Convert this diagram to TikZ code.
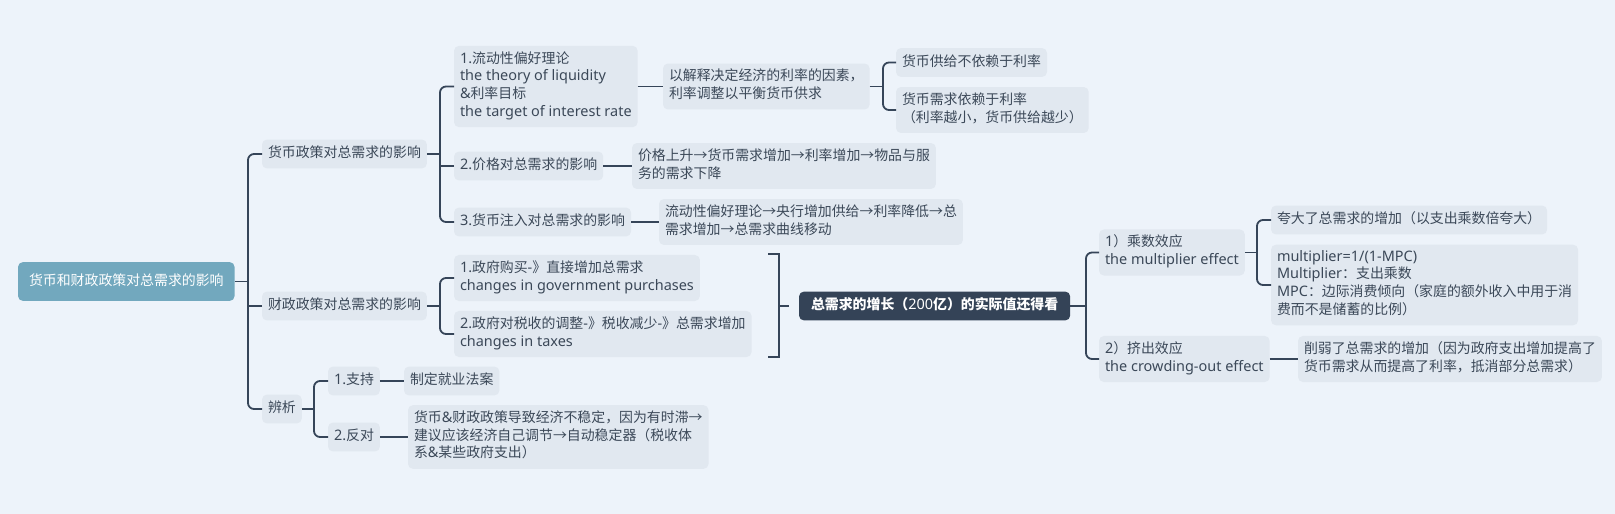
\documentclass[tikz,border=0pt]{standalone}
\usepackage{fontspec}
\setmainfont{Noto Sans}
\newfontfamily\latfont[Scale=1.04]{Noto Sans}
\newfontfamily\cjkfont{Noto Sans CJK SC}
\usepackage{xcolor}
\usepackage{tikz}
% 中文字符用 CJK 字体, 其余用 Noto Sans
\XeTeXinterchartokenstate=1
\newXeTeXintercharclass\cjkcls
\newcount\cc
\cc="2E80
\loop\XeTeXcharclass\cc=\cjkcls \advance\cc by 1 \ifnum\cc<"A000 \repeat
\cc="FF00
\loop\XeTeXcharclass\cc=\cjkcls \advance\cc by 1 \ifnum\cc<"FFF0 \repeat
\XeTeXcharclass"2192=\cjkcls
\XeTeXinterchartoks 0 \cjkcls = {\cjkfont}
\XeTeXinterchartoks 4095 \cjkcls = {\cjkfont}
\XeTeXinterchartoks \cjkcls 0 = {\latfont}
\XeTeXinterchartoks 4095 0 = {\latfont}
\definecolor{bgc}{HTML}{EDF3FA}
\definecolor{boxc}{HTML}{E1E8F0}
\definecolor{rootc}{HTML}{72A8BE}
\definecolor{darkc}{HTML}{344357}
\definecolor{linec}{HTML}{364559}
\definecolor{txtc}{HTML}{3B4858}

\begin{document}
\begin{tikzpicture}[x=1pt, y=-1pt,
		topic/.style={rectangle, fill=boxc, text=txtc, rounded corners=5pt, align=left, anchor=west,
			inner xsep=6pt, inner ysep=5.6pt, outer sep=0pt,
			font=\fontsize{13.9pt}{17.7pt}\selectfont,
			execute at begin node=\strut, execute at end node=\strut},
		root/.style={topic, fill=rootc, text=white, inner xsep=11pt, inner ysep=10.6pt},
		hub/.style={topic, fill=darkc, text=white, inner xsep=12pt, font=\fontsize{13.9pt}{17.7pt}\selectfont\bfseries},
		link/.style={draw=linec, line width=1.8pt},
		elbow/.style={link, rounded corners=6pt}
		]
		\fill[bgc] (0,0) rectangle (1615,514);
		\useasboundingbox (0,0) rectangle (1615,514);
		
		\node[root] (root) at (18, 281.5) {货币和财政政策对总需求的影响};
		\node[topic] (mon) at (262, 154) {货币政策对总需求的影响};
		\node[topic] (fis) at (262, 306) {财政政策对总需求的影响};
		\node[topic] (ana) at (262, 409) {辨析};
		
		% 货币政策
		\node[topic] (liq) at (454, 86.5) {1.流动性偏好理论\\the theory of liquidity\\\&利率目标\\the target of interest rate};
		\node[topic] (price) at (454, 166) {2.价格对总需求的影响};
		\node[topic] (inj) at (454, 222) {3.货币注入对总需求的影响};
		\node[topic] (expl) at (663, 86.5) {以解释决定经济的利率的因素，\\利率调整以平衡货币供求};
		\node[topic] (sup) at (896, 62.5) {货币供给不依赖于利率};
		\node[topic] (dem) at (896, 110) {货币需求依赖于利率\\（利率越小，货币供给越少）};
		\node[topic] (pchain) at (632, 166) {价格上升→货币需求增加→利率增加→物品与服\\务的需求下降};
		\node[topic] (ichain) at (659, 222) {流动性偏好理论→央行增加供给→利率降低→总\\需求增加→总需求曲线移动};
		
		% 财政政策
		\node[topic] (gov) at (454, 278) {1.政府购买-》直接增加总需求\\changes in government purchases};
		\node[topic] (tax) at (454, 334) {2.政府对税收的调整-》税收减少-》总需求增加\\changes in taxes};
		\node[hub] (total) at (799, 306) {总需求的增长（200亿）的实际值还得看};
		\node[topic] (mult) at (1099, 252.5) {1）乘数效应\\the multiplier effect};
		\node[topic] (crowd) at (1099, 359) {2）挤出效应\\the crowding-out effect};
		\node[topic] (exag) at (1271, 220) {夸大了总需求的增加（以支出乘数倍夸大）};
		\node[topic] (formula) at (1271, 285) {multiplier=1/(1-MPC)\\Multiplier：支出乘数\\MPC：边际消费倾向（家庭的额外收入中用于消\\费而不是储蓄的比例）};
		\node[topic] (weak) at (1298, 359) {削弱了总需求的增加（因为政府支出增加提高了\\货币需求从而提高了利率，抵消部分总需求）};
		
		% 辨析
		\node[topic] (pro) at (328, 381) {1.支持};
		\node[topic] (con) at (328, 437) {2.反对};
		\node[topic] (law) at (404, 381) {制定就业法案};
		\node[topic] (unst) at (408, 437) {货币\&财政政策导致经济不稳定，因为有时滞→\\建议应该经济自己调节→自动稳定器（税收体\\系\&某些政府支出）};
		
		\coordinate (b0) at (248, 281.5);
		\coordinate (b1) at (440, 154.25);
		\coordinate (b2) at (883, 86.5);
		\coordinate (b3) at (440, 306);
		\coordinate (b4) at (1086, 306);
		\coordinate (b5) at (1257, 252.5);
		\coordinate (b6) at (314, 409);
		
		\draw[link] (root.east) -- (b0);
		\draw[elbow] (mon.west) -| (b0) |- (ana.west);
		\draw[link] (fis.west) -- (fis.west -| b0);
		
		\draw[link] (mon.east) -- (mon.east -| b1);
		\draw[elbow] (liq.west) -| (b1) |- (inj.west);
		\draw[link] (price.west) -- (price.west -| b1);
		
		\draw[link] (expl.east) -- (b2);
		\draw[elbow] (sup.west) -| (b2) |- (dem.west);
		
		\draw[link] (fis.east) -- (b3);
		\draw[elbow] (gov.west) -| (b3) |- (tax.west);
		
		\draw[link] (total.east) -- (b4);
		\draw[elbow] (mult.west) -| (b4) |- (crowd.west);
		
		\draw[link] (mult.east) -- (b5);
		\draw[elbow] (exag.west) -| (b5) |- (formula.west);
		
		\draw[link] (ana.east) -- (b6);
		\draw[elbow] (pro.west) -| (b6) |- (con.west);
		
		\foreach \a/\b in {liq/expl, price/pchain, inj/ichain, crowd/weak, pro/law, con/unst}
		\draw[link] (\a.east) -- (\b.west);
		
		% 概要括号
		\coordinate (s1) at (768, 254);
		\coordinate (s2) at (779, 254);
		\coordinate (s3) at (779, 357);
		\coordinate (s4) at (768, 357);
		\coordinate (sm) at (779, 306);
		\coordinate (se) at (789, 306);
		\draw[link] (s1) -- (s2) -- (s3) -- (s4);
		\draw[link] (sm) -- (se);
	\end{tikzpicture}
\end{document}
